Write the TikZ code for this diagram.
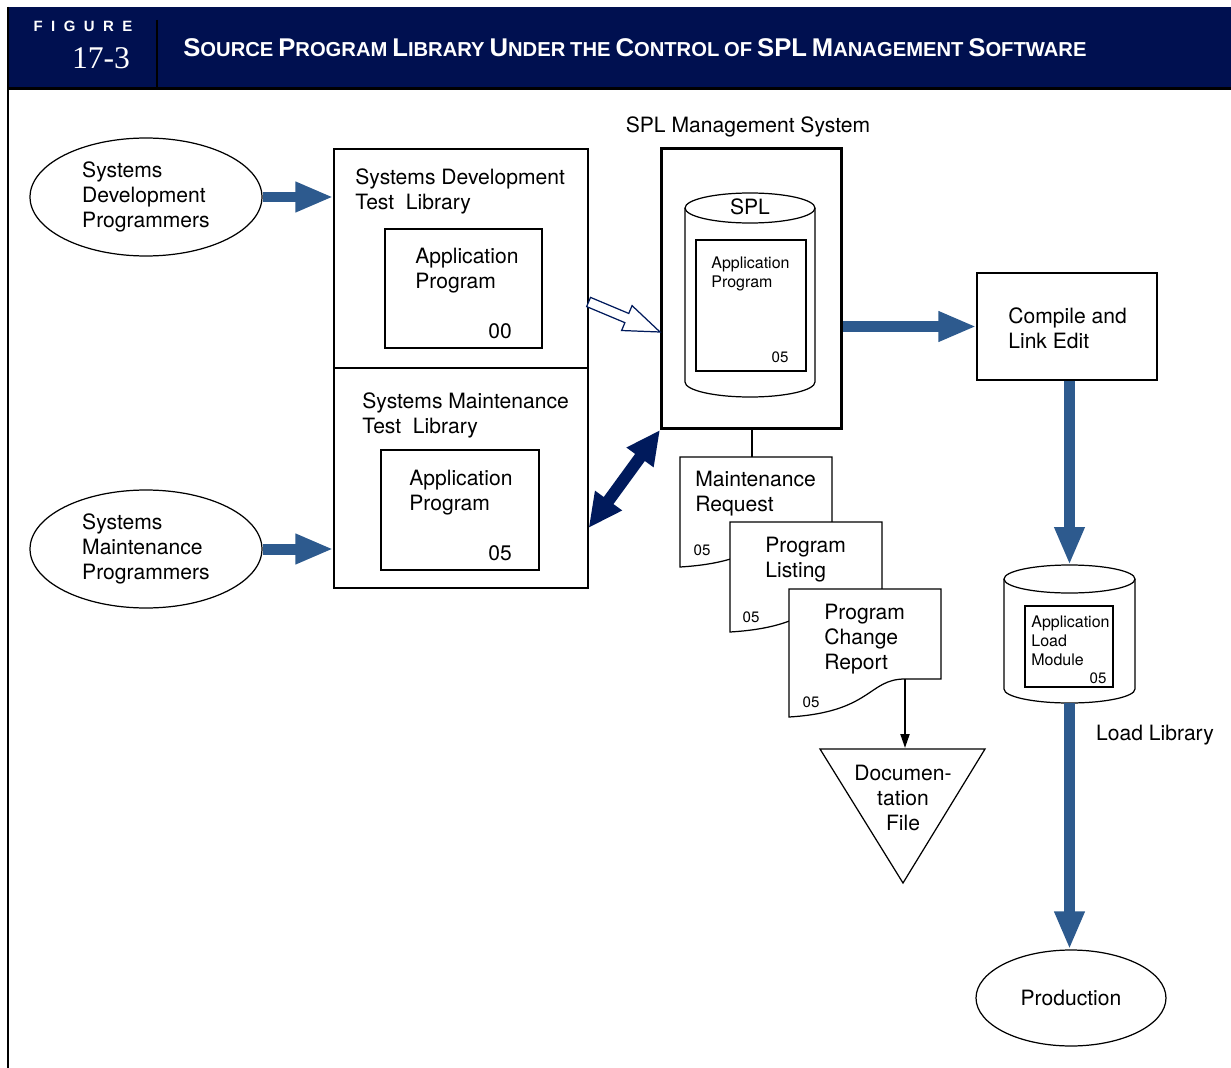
\documentclass[tikz,border=0pt]{standalone}
\usepackage{fontspec}
\setmainfont{TeX Gyre Heros}
\newfontfamily\headfont{Liberation Sans}
\newfontfamily\numfont{Liberation Serif}
\usetikzlibrary{positioning, arrows.meta, shapes.geometric, calc}

\definecolor{bandnavy}{RGB}{0,16,80}
\definecolor{flowblue}{RGB}{45,90,142}
\definecolor{swapnavy}{RGB}{0,26,92}

\newcommand{\capword}[2]{{\fontsize{14.6}{15}\selectfont #1}{\fontsize{11.5}{15}\selectfont #2}}

\begin{document}
\begin{tikzpicture}[
    x=0.02cm, y=-0.02cm,
    every node/.style = {inner sep=0, font=\fontsize{12}{14.2}\selectfont},
    prog/.style   = {ellipse, draw, line width=.7pt, minimum width=4.64cm, minimum height=2.36cm, align=left},
    libbox/.style = {rectangle, draw, line width=.7pt},
    txt/.style    = {anchor=west, align=left},
    small/.style  = {font=\fontsize{9.1}{10.8}\selectfont},
    tiny/.style   = {font=\fontsize{8.6}{10}\selectfont},
    flow/.style   = {draw=flowblue, line width=0.22cm, -{Triangle[length=0.76cm, width=0.56cm]}},
    swap/.style   = {draw=swapnavy, line width=0.24cm,
                     {Triangle[length=0.68cm, width=0.62cm]}-{Triangle[length=0.68cm, width=0.62cm]}}
]
\useasboundingbox (0,0) rectangle (1231,1068);

% header band
\fill[bandnavy] (7,7) rectangle (1231,89);
\draw[line width=0.06cm] (7,89) -- (1231,89);
\draw[line width=0.05cm] (8,7) -- (8,1068);
\draw[line width=0.04cm] (157,20) -- (157,88);
\node[text=white, font=\headfont\bfseries\fontsize{8.5}{9}\selectfont] (figword) at (83,26)
    {F\hspace{0.17cm}I\hspace{0.17cm}G\hspace{0.17cm}U\hspace{0.17cm}R\hspace{0.17cm}E};
\node[text=white, font=\numfont\fontsize{18}{20}\selectfont] (fignum) at (101,58) {17-3};
\node[text=white, anchor=west, font=\headfont\bfseries] (figtitle) at (183,48)
    {\capword{S}{OURCE} \capword{P}{ROGRAM} \capword{L}{IBRARY} \capword{U}{NDER}
     {\fontsize{11.5}{15}\selectfont THE} \capword{C}{ONTROL} {\fontsize{11.5}{15}\selectfont OF}
     \capword{SPL}{} \capword{M}{ANAGEMENT} \capword{S}{OFTWARE}};

% programmer groups
\node[prog] (devprog) at (146,197) {Systems\\Development\\Programmers};
\node[prog] (maintprog) at (146,549) {Systems\\Maintenance\\Programmers};

% test libraries
\node[libbox, minimum width=5.08cm, minimum height=4.38cm] (devlib) at (461,258.5) {};
\node[libbox, minimum width=5.08cm, minimum height=4.4cm] (maintlib) at (461,478) {};
\node[txt] (devtitle) at (355,191) {Systems Development\\Test~~Library};
\node[txt] (maintitle) at (362,415.5) {Systems Maintenance\\Test~~Library};
\node[libbox, minimum width=3.14cm, minimum height=2.38cm] (devapp) at (463.5,288.5) {};
\node[txt] (devapptext) at (415,271) {Application\\Program};
\node (devnum) at (500,331) {00};
\node[libbox, minimum width=3.16cm, minimum height=2.4cm] (maintapp) at (460,510) {};
\node[txt] (maintapptext) at (409,493) {Application\\Program};
\node (maintnum) at (500,553) {05};

% SPL management system
\node (spltitle) at (748,127) {SPL Management System};
\node[libbox, line width=0.06cm, minimum width=3.6cm, minimum height=5.6cm] (splbox) at (751.5,288.5) {};
\draw[line width=.7pt, fill=white] (685,208) -- (685,382)
    arc[start angle=180, end angle=360, x radius=1.3cm, y radius=0.3cm] -- (815,208);
\draw[line width=.7pt] (750,208) ellipse[x radius=1.3cm, y radius=0.3cm];
\node (spllabel) at (750,207) {SPL};
\node[libbox, fill=white, minimum width=2.2cm, minimum height=2.62cm] (splapp) at (751,305.5) {};
\node[txt, small] (splapptext) at (711,273.5) {Application\\Program};
\node[tiny] (splnum) at (780,357) {05};

% compile, load library, production
\node[libbox, minimum width=3.6cm, minimum height=2.14cm] (compile) at (1067,326.5) {};
\node[txt] (compiletext) at (1008,328) {Compile and\\Link Edit};
\draw[line width=.7pt, fill=white] (1004,579) -- (1004,689)
    arc[start angle=180, end angle=360, x radius=1.31cm, y radius=0.28cm] -- (1135,579);
\draw[line width=.7pt] (1069.5,579) ellipse[x radius=1.31cm, y radius=0.28cm];
\coordinate (lltop) at (1069.5,565);
\coordinate (llbot) at (1069.5,703);
\node[libbox, minimum width=1.76cm, minimum height=1.62cm] (llapp) at (1069,646.5) {};
\node[txt, small] (llapptext) at (1031,641) {Application\\Load\\Module};
\node[tiny] (llnum) at (1098,678) {05};
\node (lllabel) at (1155,735) {Load Library};
\node[prog, minimum width=3.8cm, minimum height=1.92cm] (production) at (1071,998) {Production};

% documents
\foreach \x/\t/\b/\d in {680/457/567/33, 730/522/632/33, 789/589/717/38}
    \draw[line width=.7pt, fill=white] (\x,\t) -- ++(152,0) -- (\x+152,\b-\d) -- (\x+116,\b-\d)
        .. controls (\x+79,\b-\d) and (\x+83,\b-5) .. (\x,\b) -- cycle;
\node[txt] (mrtext) at (695,494) {Maintenance\\Request};
\node[tiny] (mrnum) at (702,550) {05};
\node[txt] (pltext) at (765,559.5) {Program\\Listing};
\node[tiny] (plnum) at (751,617) {05};
\node[txt] (pcrtext) at (824,639) {Program\\Change\\Report};
\node[tiny] (pcrnum) at (811,702) {05};
\coordinate (mrtop) at (splbox.south |- 0,457);
\coordinate (pcrout) at (905,679);

% documentation file
\draw[line width=.7pt, fill=white] (820,749) -- (985,749) -- (903,883) -- cycle;
\coordinate (dftop) at (905,748);
\node[align=center] (docfile) at (903,798) {Documen-\\tation\\File};

% connectors
\draw[flow] (devprog.east) -- (devlib.west |- devprog.east);
\draw[flow] (maintprog.east) -- (maintlib.west |- maintprog.east);
\draw[flow] (splbox.east |- compile.west) -- (compile.west);
\draw[flow] (lltop |- compile.south) -- (lltop);
\draw[flow] (llbot) -- (llbot |- production.north);
\draw[swap] (splbox.south west) -- (maintlib.east |- 0,528);
\draw[line width=0.04cm] (splbox.south) -- (mrtop);
\draw[line width=0.04cm, -{Triangle[length=0.28cm, width=0.18cm]}] (pcrout) -- (dftop);

% hollow arrow: development library into SPL
\coordinate (ha) at (devlib.east |- 0,302);
\coordinate (hb) at (splbox.west |- 0,332);
\coordinate (hm) at ($(hb)!0.72cm!(ha)$);
\draw[swapnavy, line width=.7pt, fill=white]
    ($(ha)!0.1cm!90:(hb)$) -- ($(hm)!0.1cm!-90:(ha)$) -- ($(hm)!0.27cm!-90:(ha)$) -- (hb)
    -- ($(hm)!0.27cm!90:(ha)$) -- ($(hm)!0.1cm!90:(ha)$) -- ($(ha)!0.1cm!-90:(hb)$) -- cycle;

\end{tikzpicture}
\end{document}
